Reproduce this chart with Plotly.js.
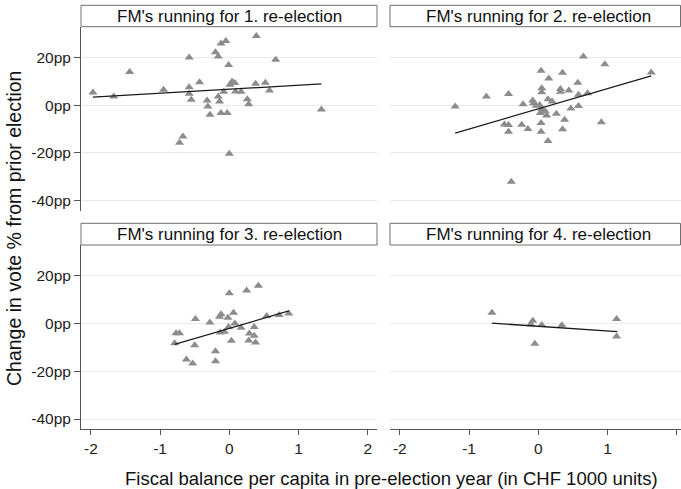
<!DOCTYPE html>
<html>
<head>
<meta charset="utf-8">
<script src="https://cdn.plot.ly/plotly-3.0.1.min.js"></script>
<style>html,body{margin:0;padding:0;background:#fff;}#chart{width:681px;height:489px;}</style>
</head>
<body>
<div id="chart"></div>
<script>
// ---- Data ----
const panelTitles = ["FM's running for 1. re-election", "FM's running for 2. re-election",
                     "FM's running for 3. re-election", "FM's running for 4. re-election"];

const p1x = [-1.97,-1.67,-1.44,-0.95,-0.72,-0.67,-0.58,-0.58,-0.58,-0.55,-0.43,-0.32,-0.31,-0.28,-0.20,-0.16,-0.12,-0.05,-0.16,-0.14,-0.12,-0.08,-0.03,-0.01,0.00,0.01,0.04,0.08,0.09,0.17,0.26,0.28,0.38,0.39,0.52,0.58,0.67,1.33];
const p1y = [5.3,3.6,13.9,6.4,-15.8,-13.1,19.9,7.5,4.7,2.2,9.6,1.9,-0.6,-4.0,22.1,20.3,25.8,26.8,3.6,1.5,-3.3,5.6,-3.3,16.8,-20.3,8.5,9.9,9.2,5.7,5.6,2.5,0.4,8.9,28.9,9.3,6.1,19.0,-1.8];
const fit1x = [-1.97, 1.33];
const fit1y = [3.3, 8.9];

const p2x = [-1.20,-0.75,-0.43,-0.39,-0.49,-0.43,-0.43,-0.24,-0.15,-0.22,-0.08,-0.07,-0.03,0.04,0.05,0.05,0.03,0.04,0.04,0.02,0.05,0.10,0.12,0.14,0.15,0.14,0.20,0.26,0.32,0.32,0.35,0.35,0.38,0.44,0.47,0.57,0.58,0.58,0.65,0.71,0.91,0.96,1.63];
const p2y = [-0.6,3.6,4.6,-32.1,-8.1,-8.3,-11.1,-8.2,-10.0,0.4,1.9,0.8,-0.3,14.4,7.1,5.4,-3.3,-7.5,-11.1,0.0,-1.7,-2.6,-4.4,-15.0,11.1,2.5,1.5,-3.6,6.7,5.6,13.5,-10.1,-6.1,6.1,-1.4,9.4,4.3,-0.4,20.3,5.0,-7.2,17.1,13.6];
const fit2x = [-1.20, 1.63];
const fit2y = [-11.7, 12.2];

const p3x = [-0.79,-0.77,-0.72,-0.62,-0.53,-0.50,-0.49,-0.28,-0.20,-0.20,-0.14,-0.12,-0.13,-0.07,-0.02,-0.01,0.00,0.03,0.06,0.08,0.17,0.25,0.28,0.29,0.36,0.36,0.38,0.42,0.54,0.72,0.86];
const p3y = [-8.3,-4.1,-4.1,-15.1,-16.8,-9.1,1.8,0.4,-11.6,-15.8,2.8,3.8,-3.8,-3.5,2.4,-1.5,12.6,-7.3,4.5,0.0,-1.8,13.8,-7.1,-4.2,-5.2,-1.5,-8.0,15.8,3.1,3.5,4.1];
const fit3x = [-0.79, 0.86];
const fit3y = [-8.8, 5.2];

const p4x = [-0.67,-0.11,-0.08,-0.05,0.05,0.34,1.13,1.13];
const p4y = [4.5,-0.4,1.1,-8.5,-0.7,-0.8,1.8,-5.5];
const fit4x = [-0.67, 1.14];
const fit4y = [0.1, -3.4];

const yTickVals = [-40, -20, 0, 20];
const yTickText = ["-40pp", "-20pp", "0pp", "20pp"];
const xTickVals = [-2, -1, 0, 1, 2];
const xTickText = ["-2", "-1", "0", "1", "2"];

// ---- Layout helpers (pixel -> paper) ----
const W = 681, H = 489;
const px = v => v / W;
const py = v => 1 - v / H;

const FONT = "Liberation Sans, Arial, sans-serif";
const markerStyle = {symbol: 'triangle-up', size: 8, color: '#8c8c8c'};
const lineStyle = {color: '#1a1a1a', width: 1.3};

const pts = [[p1x,p1y,fit1x,fit1y],[p2x,p2y,fit2x,fit2y],[p3x,p3y,fit3x,fit3y],[p4x,p4y,fit4x,fit4y]];
const traces = [];
pts.forEach((p, i) => {
  const s = i === 0 ? '' : String(i + 1);
  traces.push({x: p[0], y: p[1], type: 'scatter', mode: 'markers', marker: markerStyle,
               xaxis: 'x' + s, yaxis: 'y' + s, showlegend: false, hoverinfo: 'skip'});
  traces.push({x: p[2], y: p[3], type: 'scatter', mode: 'lines', line: lineStyle,
               xaxis: 'x' + s, yaxis: 'y' + s, showlegend: false, hoverinfo: 'skip'});
});

const leftDom = [px(81), px(377)];
const rightDom = [px(390), 1];
const topDom = [py(211), py(26.7)];
const botDom = [py(429.3), py(245)];
const yRange = [-44.3, 32.8];
const xRangeL = [-2.143, 2.134];
const xRangeR = [-2.141, 2.06];

const gridColor = '#eaeaea';
const axisColor = '#555555';
const tickFont = {family: FONT, size: 15.5, color: '#222'};

function yAxis(dom, anchor, showLabels) {
  return {domain: dom, anchor: anchor, range: yRange, tickvals: yTickVals, ticktext: yTickText,
    showticklabels: showLabels, showline: showLabels, linecolor: axisColor, linewidth: 1,
    ticks: showLabels ? 'outside' : '', ticklen: 6, tickcolor: axisColor, tickwidth: 1,
    showgrid: true, gridcolor: gridColor, gridwidth: 1, zeroline: false, tickfont: tickFont,
    fixedrange: true};
}
function xAxis(dom, anchor, range, showLabels) {
  return {domain: dom, anchor: anchor, range: range, tickvals: xTickVals, ticktext: xTickText,
    showticklabels: showLabels, showline: showLabels, linecolor: axisColor, linewidth: 1,
    ticks: showLabels ? 'outside' : '', ticklen: 5, tickcolor: axisColor, tickwidth: 1,
    showgrid: false, zeroline: false, tickfont: tickFont, fixedrange: true};
}

const headers = [
  {x0: 81, x1: 377, y0: 5.3, y1: 26.7, cx: 229},
  {x0: 390, x1: 680.5, y0: 5.3, y1: 26.7, cx: 538},
  {x0: 81, x1: 377, y0: 223.3, y1: 245, cx: 229},
  {x0: 390, x1: 680.5, y0: 223.3, y1: 245, cx: 538}
];
const shapes = headers.map(h => ({type: 'rect', xref: 'paper', yref: 'paper',
  x0: px(h.x0), x1: px(h.x1), y0: py(h.y1), y1: py(h.y0),
  line: {color: '#6e6e6e', width: 1}, fillcolor: '#ffffff', layer: 'above'}));

const annotations = headers.map((h, i) => ({text: panelTitles[i], xref: 'paper', yref: 'paper',
  x: px(h.cx), y: py((h.y0 + h.y1) / 2 + 0.5), xanchor: 'center', yanchor: 'middle', showarrow: false,
  font: {family: FONT, size: 17, color: '#111'}}));
annotations.push({text: 'Change in vote % from prior election', xref: 'paper', yref: 'paper',
  x: px(14), y: py(229), textangle: -90, xanchor: 'center', yanchor: 'middle', showarrow: false,
  font: {family: FONT, size: 19.5, color: '#111'}});
annotations.push({text: 'Fiscal balance per capita in pre-election year (in CHF 1000 units)', xref: 'paper', yref: 'paper',
  x: px(391), y: py(478), xanchor: 'center', yanchor: 'middle', showarrow: false,
  font: {family: FONT, size: 18.5, color: '#111'}});

const layout = {
  width: W, height: H, margin: {l: 0, r: 0, t: 0, b: 0},
  paper_bgcolor: '#ffffff', plot_bgcolor: '#ffffff', showlegend: false,
  xaxis: xAxis(leftDom, 'y', xRangeL, false),
  yaxis: yAxis(topDom, 'x', true),
  xaxis2: xAxis(rightDom, 'y2', xRangeR, false),
  yaxis2: yAxis(topDom, 'x2', false),
  xaxis3: xAxis(leftDom, 'y3', xRangeL, true),
  yaxis3: yAxis(botDom, 'x3', true),
  xaxis4: xAxis(rightDom, 'y4', xRangeR, true),
  yaxis4: yAxis(botDom, 'x4', false),
  shapes: shapes, annotations: annotations
};

Plotly.newPlot('chart', traces, layout, {staticPlot: true, displayModeBar: false});
</script>
</body>
</html>
